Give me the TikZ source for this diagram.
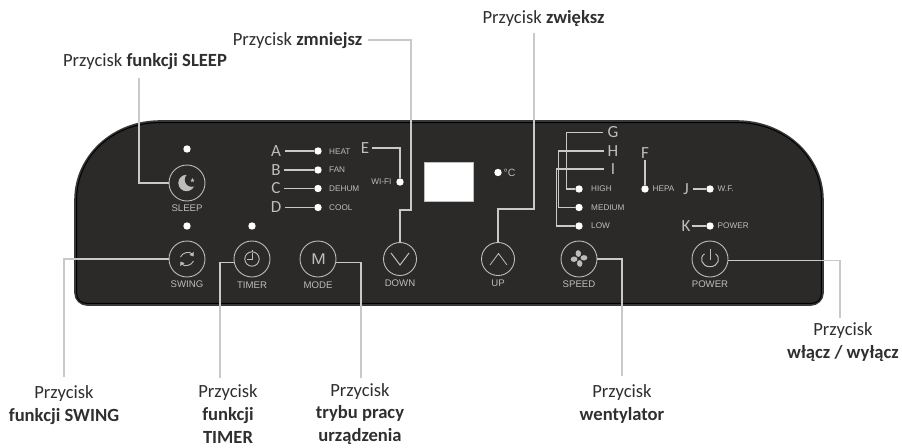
\documentclass[tikz,border=0pt]{standalone}
\usepackage{fontspec}
\setmainfont{Carlito}
\newfontfamily\panelfont{Liberation Sans}
\usetikzlibrary{arrows.meta,shapes.geometric}
\definecolor{panelfill}{HTML}{2B2A29}
\definecolor{leader}{HTML}{C9C9C9}
\definecolor{ink}{HTML}{BDBDBB}
\definecolor{caption}{HTML}{2F2F2F}
\newcommand{\panelshape}[1]{
  ({75+#1},200) .. controls ({75+#1},156) and (113,{121+#1}) .. (160,{121+#1})
  -- (737,{121+#1}) .. controls (784,{121+#1}) and ({823-#1},156) .. ({823-#1},200)
  -- ({823-#1},293) .. controls ({823-#1},300) and (817,{305-#1}) .. (811,{305-#1})
  -- (87,{305-#1}) .. controls (81,{305-#1}) and ({75+#1},300) .. ({75+#1},293) -- cycle}
\tikzset{
  btn/.style={circle,draw=ink,line width=0.9pt,minimum size=36pt,inner sep=0pt},
  btnsmall/.style={btn,minimum size=33pt},
  led/.style={circle,fill=white,minimum size=7.4pt,inner sep=0pt},
  btnlabel/.style={text=ink,inner sep=0pt,font=\panelfont\fontsize{9.6}{11}\selectfont},
  ledlabel/.style={text=ink,inner sep=0pt,anchor=west,font=\panelfont\fontsize{8.2}{9}\selectfont},
  letter/.style={text=ink,inner sep=3.5pt,font=\fontsize{17}{18}\selectfont},
  wire/.style={draw=leader,line width=1.1pt},
  outerwire/.style={draw=leader,line width=1.2pt},
  captionbox/.style={text=caption,align=center,inner sep=0pt,font=\fontsize{18.6}{22.6}\selectfont},
  icon/.style={draw=ink,line width=0.9pt},
  iconfill/.style={fill=ink,draw=none},
}
\begin{document}
\begin{tikzpicture}[x=1pt,y=-1pt]
\useasboundingbox (0,0) rectangle (902,447);
% panel
\fill[panelfill] \panelshape{0};
\draw[draw=black!78,line width=1.6pt] \panelshape{0};
\draw[draw=black,line width=1pt] \panelshape{1.6};
% display
\node[draw=ink,fill=white,line width=1pt,minimum width=49pt,minimum height=39pt,inner sep=0pt] (display) at (448.5,181.5) {};
% buttons
\node[btn] (bSleep) at (187,183) {};
\node[btn] (bSwing) at (187,259) {};
\node[btn] (bTimer) at (252,259) {};
\node[btn] (bMode) at (318,259) {};
\node[btnsmall] (bDown) at (400,259) {};
\node[btnsmall] (bUp) at (498,259) {};
\node[btn] (bSpeed) at (579,259) {};
\node[btn] (bPower) at (710,259) {};
% button labels
\node[btnlabel] (tSleep) at (187,208.5) {SLEEP};
\node[btnlabel] (tSwing) at (187,284.5) {SWING};
\node[btnlabel] (tTimer) at (252,285) {TIMER};
\node[btnlabel] (tMode) at (318,285.5) {MODE};
\node[btnlabel] (tDown) at (400,283.5) {DOWN};
\node[btnlabel] (tUp) at (498,283.5) {UP};
\node[btnlabel] (tSpeed) at (579,284.5) {SPEED};
\node[btnlabel] (tPower) at (710,284.5) {POWER};
% LEDs
\node[led] (dSleep) at (187,149) {};
\node[led] (dSwing) at (187,226) {};
\node[led] (dTimer) at (252,226) {};
\node[led] (dHeat) at (318,151) {};
\node[led] (dFan) at (318,170) {};
\node[led] (dDehum) at (318,188.5) {};
\node[led] (dCool) at (318,207.5) {};
\node[led] (dWifi) at (400,182) {};
\node[led] (dDeg) at (498,172.5) {};
\node[led] (dHigh) at (579,189) {};
\node[led] (dMedium) at (579,207.5) {};
\node[led] (dLow) at (579,226) {};
\node[led] (dHepa) at (645,189) {};
\node[led] (dWf) at (710,189) {};
\node[led] (dPow) at (710,226) {};
% LED labels
\node[ledlabel] at (329,151.5) {HEAT};
\node[ledlabel] at (329,170) {FAN};
\node[ledlabel] at (329,189) {DEHUM};
\node[ledlabel] at (329,208) {COOL};
\node[ledlabel,anchor=east] at (391.5,182) {WI-FI};
\node[ledlabel,font=\panelfont\fontsize{10.5}{11}\selectfont] at (503.5,172.5) {°C};
\node[ledlabel] at (591,189) {HIGH};
\node[ledlabel] at (591,207.5) {MEDIUM};
\node[ledlabel] at (591,226) {LOW};
\node[ledlabel] at (652.5,189) {HEPA};
\node[ledlabel] at (717.5,189) {W.F.};
\node[ledlabel] at (717.5,226) {POWER};
% letters
\node[letter] (lA) at (276,151) {A};
\node[letter] (lB) at (276,170) {B};
\node[letter] (lC) at (276,188.5) {C};
\node[letter] (lD) at (276,207.5) {D};
\node[letter,inner sep=2.5pt] (lE) at (365,148) {E};
\node[letter,inner sep=1pt] (lF) at (645,153) {F};
\node[letter,inner sep=4pt] (lG) at (613,132.5) {G};
\node[letter,inner sep=4pt] (lH) at (613,151) {H};
\node[letter,inner sep=7pt] (lI) at (613,169) {I};
\node[letter,inner sep=4pt] (lJ) at (686,189) {J};
\node[letter,inner sep=1pt] (lK) at (686,226) {K};
% inner wires
\draw[wire] (lA.east) -- (dHeat);
\draw[wire] (lB.east) -- (dFan);
\draw[wire] (lC.east) -- (dDehum);
\draw[wire] (lD.east) -- (dCool);
\draw[wire] (lE.east) -| (dWifi);
\draw[wire] (lF.south) -- (dHepa);
\draw[wire] (lG.west) -- ++(-37,0) |- (dHigh);
\draw[wire] (lH.west) -- ++(-45,0) |- (dMedium);
\draw[wire] (lI.west) -- ++(-47,0) |- (dLow);
\draw[wire] (lJ.east) -- (dWf);
\draw[wire] (lK.east) -- (dPow);
% icons
\fill[iconfill] (186.5,183) circle (8.2);
\fill[panelfill] (191.8,179.8) circle (7);
\node[star,star points=5,star point ratio=2.2,fill=ink,inner sep=0pt,minimum size=4.4pt] (iStar) at (192.5,180.3) {};
\draw[icon,-{Triangle[length=3.6pt,width=5pt]}] (180.5,257) .. controls (182,252.5) and (190,251) .. (193.5,256.5);
\draw[icon,-{Triangle[length=3.6pt,width=5pt]}] (193.5,261) .. controls (192,265.5) and (184,267) .. (180.5,261.5);
\draw[icon] (252,259) circle (7.2);
\draw[icon,line width=0.8pt] (252,249.8) -- (252,251.6) (252,253) -- (252,259.5) -- (246.5,259.5);
\foreach \a in {8,98,188,278}{
  \fill[iconfill,rotate around={\a:(579,258.5)}] (584,258.5) ellipse (3.4 and 2.7);
}
\draw[icon,line width=1pt] (391,253) -- (400,265) -- (409,253);
\draw[icon,line width=0.8pt] (490,265) -- (498.5,253.5) -- (507,265);
\draw[icon,line width=1pt] (704.5,253.8) .. controls (699,257.5) and (701.5,266.7) .. (710,266.7) .. controls (718.5,266.7) and (721,257.5) .. (715.5,253.8);
\draw[icon,line width=1pt] (710,248.5) -- (710,260);
\node[text=ink,inner sep=0pt,font=\panelfont\fontsize{15.5}{17}\selectfont,xscale=1.12] (iM) at (318.5,259.5) {M};
% captions
\node[captionbox] (cSleep) at (145,62) {Przycisk \textbf{funkcji SLEEP}};
\node[captionbox] (cDown) at (297.5,40.5) {Przycisk \textbf{zmniejsz}};
\node[captionbox] (cUp) at (543.5,18) {Przycisk \textbf{zwiększ}};
\node[captionbox] (cSwing) at (64,405) {Przycisk\\\textbf{funkcji SWING}};
\node[captionbox] (cTimer) at (228,414) {Przycisk\\\textbf{funkcji}\\\textbf{TIMER}};
\node[captionbox] (cMode) at (360,414) {Przycisk\\\textbf{trybu pracy}\\\textbf{urządzenia}};
\node[captionbox] (cSpeed) at (622,404) {Przycisk\\\textbf{wentylator}};
\node[captionbox] (cPower) at (843,342) {Przycisk\\\textbf{włącz / wyłącz}};
% free ends
\coordinate (eSleep) at (139,78);
\coordinate (eDown) at (368,40);
\coordinate (eUp) at (534,33);
\coordinate (eSwing) at (64,377);
\coordinate (eTimer) at (220,378);
\coordinate (eMode) at (361,378);
\coordinate (eSpeed) at (622,376);
\coordinate (ePower) at (840,318);
% outer connectors
\draw[outerwire] (eSleep) |- (bSleep.west);
\draw[outerwire] (eDown) -- ++(43,0) -- ++(0,170) -| (bDown.north);
\draw[outerwire] (eUp) -- ++(0,176) -| (bUp.north);
\draw[outerwire] (eSwing) |- (bSwing.west);
\draw[outerwire] (eTimer) |- (bTimer.190);
\draw[outerwire] (bMode.350) -| (eMode);
\draw[outerwire] (bSpeed.east) -| (eSpeed);
\draw[outerwire] (bPower.355) -| (ePower);
\end{tikzpicture}
\end{document}
